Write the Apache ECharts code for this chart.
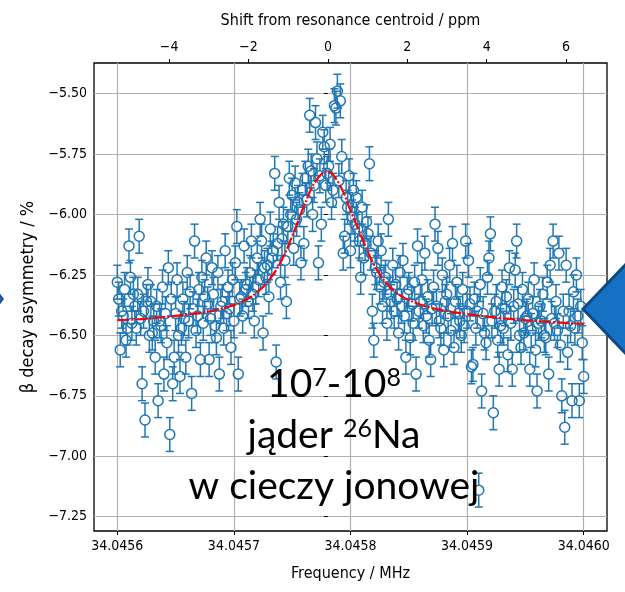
<!DOCTYPE html>
<html>
<head>
<meta charset="utf-8">
<script src="https://cdn.jsdelivr.net/npm/echarts@6/dist/echarts.min.js"></script>
<style>
html, body { margin: 0; padding: 0; background: #fff; }
#main { width: 625px; height: 592px; }
</style>
</head>
<body>
<div id="main"></div>
<script>
// frequency scan: start + step (MHz), one asymmetry value per step
var freqStart = 34.0456;
var freqStep = 0.00000125;
var asymmetry = [
  -6.28, -6.35, -6.56, -6.40, -6.42, -6.31, -6.52, -6.47, -6.13, -6.26, -6.45, -6.33, -6.38,
  -6.47, -6.33, -6.09, -6.43, -6.70, -6.40, -6.85, -6.36, -6.29, -6.50, -6.36, -6.49, -6.44,
  -6.59, -6.38, -6.77, -6.44, -6.46, -6.30, -6.66, -6.41, -6.53, -6.22, -6.91, -6.35, -6.70,
  -6.59, -6.41, -6.27, -6.50, -6.67, -6.47, -6.35, -6.43, -6.59, -6.24, -6.44, -6.32, -6.74,
  -6.39, -6.11, -6.48, -6.42, -6.31, -6.60, -6.26, -6.45, -6.34, -6.18, -6.37, -6.60,
  -6.43, -6.22, -6.33, -6.46, -6.51, -6.24, -6.66, -6.38, -6.36, -6.47, -6.15, -6.41, -6.30,
  -6.39, -6.55, -6.27, -6.44, -6.20, -6.05, -6.66, -6.35, -6.34, -6.42, -6.13, -6.31, -6.29,
  -6.36, -6.24, -6.11, -6.33, -6.44, -6.30, -6.18, -6.27, -6.02, -6.11, -6.49, -6.22, -6.26,
  -6.21, -6.34, -6.06, -6.18, -6.15, -5.83, -6.61, -6.12, -5.95, -6.28, -6.10, -6.04, -6.19,
  -6.36, -6.05, -5.85, -6.00, -5.92, -6.14, -5.87, -6.02, -5.95, -5.98, -6.20, -5.90,
  -6.12, -5.85, -5.94, -5.80, -5.59, -5.82, -6.00, -5.88, -5.62, -5.77, -6.20, -5.84, -6.04,
  -5.66, -5.72, -5.88, -5.83, -5.80, -5.71, -5.95, -5.90, -5.55, -5.56, -5.49, -5.86, -5.53,
  -5.76, -6.16, -6.09, -5.93, -5.97, -5.84, -6.15, -6.01, -5.90, -6.04, -5.93, -6.06, -6.11,
  -6.26, -5.97, -6.18, -6.12, -6.03, -6.08, -5.79, -6.16, -6.40, -6.52, -6.22, -6.24, -6.11,
  -6.30, -6.15, -6.38, -6.28, -6.26, -6.45, -6.02, -6.33, -6.36, -6.21, -6.40, -6.29,
  -6.35, -6.49, -6.24, -6.38, -6.19, -6.42, -6.59, -6.33, -6.31, -6.51, -6.37, -6.45, -6.28,
  -6.66, -6.13, -6.40, -6.36, -6.27, -6.46, -6.16, -6.42, -6.34, -6.52, -6.60, -6.39, -6.30,
  -6.04, -6.38, -6.14, -6.44, -6.47, -6.25, -6.56, -6.36, -6.33, -6.42, -6.21, -6.48, -6.12,
  -6.55, -6.36, -6.28, -6.41, -6.44, -6.50, -6.31, -6.46, -6.11, -6.40, -6.19, -6.37, -6.63,
  -6.62, -6.35, -6.47, -6.40, -7.14, -6.29, -6.73, -6.41, -6.49, -6.53, -6.26, -6.18,
  -6.08, -6.44, -6.82, -6.40, -6.36, -6.52, -6.64, -6.46, -6.30, -6.47, -6.39, -6.34, -6.58,
  -6.22, -6.45, -6.64, -6.38, -6.23, -6.11, -6.37, -6.50, -6.55, -6.31, -6.49, -6.43, -6.42,
  -6.35, -6.64, -6.48, -6.41, -6.27, -6.56, -6.73, -6.45, -6.38, -6.44, -6.33, -6.50, -6.51,
  -6.28, -6.66, -6.21, -6.43, -6.11, -6.45, -6.36, -6.48, -6.16, -6.54, -6.75, -6.40, -6.88,
  -6.21, -6.57, -6.40, -6.46, -6.77, -6.32, -6.47, -6.25, -6.42, -6.77, -6.38, -6.53, -6.67
];
var errBar = 0.07;

// fitted curve
var fitFreq = [34.04560, 34.04562, 34.04564, 34.04566, 34.04568, 34.04570, 34.04571,
  34.04572, 34.04573, 34.04574, 34.04575, 34.04576, 34.04577, 34.04578, 34.04579,
  34.04580, 34.04581, 34.04582, 34.04583, 34.04584, 34.04585, 34.04587, 34.04590,
  34.04593, 34.04596, 34.04600];
var fitAsym = [-6.437, -6.433, -6.424, -6.414, -6.400, -6.375, -6.354,
  -6.321, -6.272, -6.198, -6.090, -5.967, -5.863, -5.822, -5.871,
  -5.983, -6.099, -6.206, -6.280, -6.326, -6.354, -6.387, -6.412,
  -6.429, -6.441, -6.453];

var freqTicks = [34.0456, 34.0457, 34.0458, 34.0459, 34.0460];
var ppmTicks = [-4, -2, 0, 2, 4, 6];
var asymTicks = [-7.25, -7.00, -6.75, -6.50, -6.25, -6.00, -5.75, -5.50];

var freqMin = 34.04558, freqMax = 34.04602;
var centroid = 34.0457806;
var asymMin = -7.309, asymMax = -5.3735;

var blue = '#1f77b4';
var tickFont = 'DejaVu Sans Condensed, DejaVu Sans, sans-serif';

function minus(s) { return s.replace('-', '\u2212'); }

var points = asymmetry.map(function (v, i) { return [freqStart + i * freqStep, v]; });
var fitLine = fitFreq.map(function (f, i) { return [f, fitAsym[i]]; });

var chart = echarts.init(document.getElementById('main'));
chart.setOption({
  animation: false,
  backgroundColor: '#fff',
  grid: {
    left: 94, right: 18, top: 63, bottom: 61,
    show: true, borderColor: '#000', borderWidth: 1.3,
    containLabel: false, outerBoundsMode: 'none'
  },
  xAxis: [{
    type: 'value', min: freqMin, max: freqMax, position: 'bottom',
    name: 'Frequency / MHz', nameLocation: 'middle', nameGap: 35,
    nameTextStyle: { fontFamily: tickFont, fontSize: 16, color: '#000' },
    axisLine: { show: false },
    axisTick: { show: true, inside: false, length: 4, customValues: freqTicks,
      lineStyle: { color: '#000', width: 1 } },
    axisLabel: { customValues: freqTicks, margin: 8, fontFamily: tickFont, fontSize: 14, color: '#000',
      formatter: function (v) { return v.toFixed(4); } },
    splitLine: { show: true, lineStyle: { color: '#b0b0b0', width: 1.2 } }
  }, {
    type: 'value', position: 'top',
    min: (freqMin - centroid) / centroid * 1e6, max: (freqMax - centroid) / centroid * 1e6,
    name: 'Shift from resonance centroid / ppm', nameLocation: 'middle', nameGap: 34,
    nameTextStyle: { fontFamily: tickFont, fontSize: 16, color: '#000' },
    axisLine: { show: false },
    axisTick: { show: true, inside: false, length: 4, customValues: ppmTicks,
      lineStyle: { color: '#000', width: 1 } },
    axisLabel: { customValues: ppmTicks, margin: 9, fontFamily: tickFont, fontSize: 14, color: '#000',
      formatter: function (v) { return minus(String(v)); } },
    splitLine: { show: false }
  }],
  yAxis: {
    type: 'value', min: asymMin, max: asymMax,
    name: 'β decay asymmetry / %', nameLocation: 'middle', nameGap: 57, nameRotate: 90,
    nameTextStyle: { fontFamily: tickFont, fontSize: 18, color: '#000' },
    axisLine: { show: false },
    axisTick: { show: true, inside: false, length: 4, customValues: asymTicks,
      lineStyle: { color: '#000', width: 1 } },
    axisLabel: { customValues: asymTicks, margin: 7, fontFamily: tickFont, fontSize: 14, color: '#000',
      formatter: function (v) { return minus(v.toFixed(2)); } },
    splitLine: { show: true, lineStyle: { color: '#b0b0b0', width: 1.2 } }
  },
  series: [{
    type: 'custom',
    xAxisIndex: 0,
    clip: true,
    z: 2,
    data: points,
    renderItem: function (params, api) {
      var c = api.coord([api.value(0), api.value(1)]);
      var hi = api.coord([api.value(0), api.value(1) + errBar]);
      var lo = api.coord([api.value(0), api.value(1) - errBar]);
      var st = { stroke: blue, lineWidth: 1.5, fill: null };
      var r = 5;
      return {
        type: 'group',
        children: [
          { type: 'line', shape: { x1: c[0], y1: hi[1], x2: c[0], y2: c[1] - r }, style: st },
          { type: 'line', shape: { x1: c[0], y1: c[1] + r, x2: c[0], y2: lo[1] }, style: st },
          { type: 'line', shape: { x1: c[0] - 4, y1: hi[1], x2: c[0] + 4, y2: hi[1] }, style: st },
          { type: 'line', shape: { x1: c[0] - 4, y1: lo[1], x2: c[0] + 4, y2: lo[1] }, style: st },
          { type: 'circle', shape: { cx: c[0], cy: c[1], r: r }, style: st }
        ]
      };
    }
  }, {
    type: 'line',
    xAxisIndex: 0,
    data: fitLine,
    smooth: 0.4,
    showSymbol: false,
    z: 3,
    lineStyle: { color: '#ff0000', width: 2.2, type: [12, 2, 2, 2] }
  }],
  graphic: [{
    type: 'text', z: 100,
    x: 334, y: 365,
    style: {
      text: '{b|10}{s|7}{b|-10}{s|8}\n{b|jąder }{s|26}{b|Na}\n{b|w cieczy jonowej}',
      align: 'center',
      verticalAlign: 'top',
      rich: {
        b: { fontFamily: 'Lato, sans-serif', fontSize: 39, lineHeight: 51, fill: '#000', verticalAlign: 'top' },
        s: { fontFamily: 'Lato, sans-serif', fontSize: 25, lineHeight: 38, fill: '#000', verticalAlign: 'top' }
      }
    }
  }, {
    type: 'polygon', z: 100,
    shape: { points: [[583, 309], [628, 262], [628, 356]] },
    style: { fill: '#1670c4', stroke: '#0c4a86', lineWidth: 3 }
  }, {
    type: 'polygon', z: 100,
    shape: { points: [[-3, 291], [3, 299], [-3, 307]] },
    style: { fill: '#1670c4', stroke: '#0c4a86', lineWidth: 1.5 }
  }]
});
</script>
</body>
</html>
